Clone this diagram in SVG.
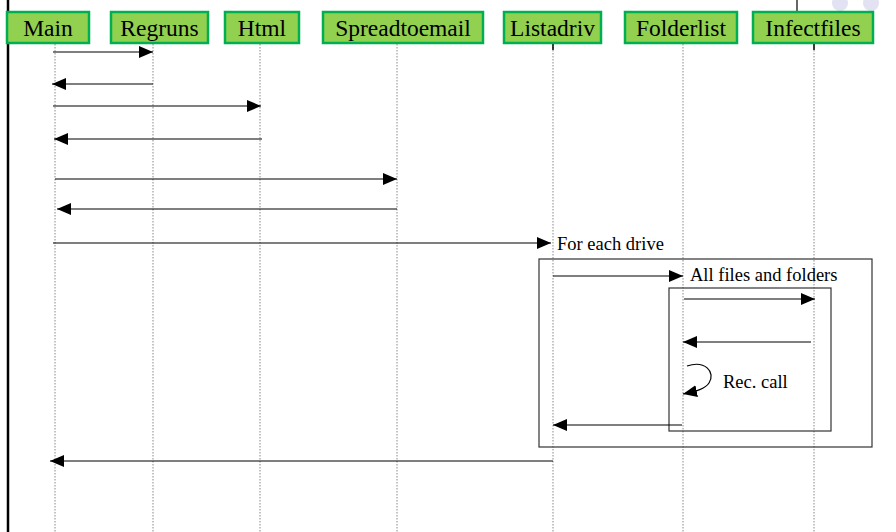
<svg xmlns="http://www.w3.org/2000/svg" width="896" height="532" viewBox="0 0 896 532">
<style>
.box{fill:#92d050;stroke:#00b050;stroke-width:2.5}
.hdr{font-family:"Liberation Serif",serif;font-size:23.5px;fill:#000;text-anchor:middle}
.lbl{font-family:"Liberation Serif",serif;font-size:18.5px;fill:#000}
.life{stroke:#888;stroke-width:1;stroke-dasharray:1.5 1.5;fill:none}
.msg{stroke:#000;stroke-width:1.2;fill:none}
.frame{fill:none;stroke:#333;stroke-width:1.2}
</style>
<defs>
<marker id="ah" viewBox="0 0 14 12" refX="14" refY="6" markerWidth="14" markerHeight="12" markerUnits="userSpaceOnUse" orient="auto">
<path d="M0,0 L14,6 L0,12 Z" fill="#000"/>
</marker>
</defs>
<rect width="896" height="532" fill="#fff"/>
<circle cx="840" cy="3" r="8" fill="#e2e2f2"/>
<circle cx="871" cy="3" r="8" fill="#e2e2f2"/>
<line x1="8" y1="0" x2="8" y2="532" stroke="#000" stroke-width="2.5"/>
<line x1="797" y1="0" x2="797" y2="12" stroke="#000" stroke-width="1.2"/>
<g id="lifelines">
<line class="life" x1="55" y1="44" x2="55" y2="532"/>
<line class="life" x1="153" y1="44" x2="153" y2="532"/>
<line class="life" x1="260" y1="44" x2="260" y2="532"/>
<line class="life" x1="397" y1="44" x2="397" y2="532"/>
<line class="life" x1="553" y1="44" x2="553" y2="532"/>
<line class="life" x1="683" y1="44" x2="683" y2="532"/>
<line class="life" x1="814" y1="44" x2="814" y2="532" stroke="#000"/>
<line x1="553" y1="43" x2="553" y2="50" stroke="#000" stroke-width="1.5"/>
<line x1="814" y1="43" x2="814" y2="50" stroke="#000" stroke-width="1.5"/>
</g>
<g id="node-main"><rect class="box" x="7" y="12" width="82" height="31"/><text class="hdr" x="48" y="36">Main</text></g>
<g id="node-regruns"><rect class="box" x="111" y="12" width="97" height="31"/><text class="hdr" x="159.5" y="36">Regruns</text></g>
<g id="node-html"><rect class="box" x="225" y="12" width="74" height="31"/><text class="hdr" x="262" y="36">Html</text></g>
<g id="node-spreadtoemail"><rect class="box" x="323" y="12" width="160" height="31"/><text class="hdr" x="403" y="36">Spreadtoemail</text></g>
<g id="node-listadriv"><rect class="box" x="504" y="12" width="97" height="31"/><text class="hdr" x="552.5" y="36">Listadriv</text></g>
<g id="node-folderlist"><rect class="box" x="625" y="12" width="112" height="31"/><text class="hdr" x="681" y="36">Folderlist</text></g>
<g id="node-infectfiles"><rect class="box" x="753" y="12" width="120" height="31"/><text class="hdr" x="813" y="36">Infectfiles</text></g>
<g id="frames">
<rect class="frame" x="539" y="259" width="333" height="188"/>
<rect class="frame" x="669" y="288" width="162" height="143" stroke="#555"/>
</g>
<g id="connectors">
<line class="msg" x1="53" y1="52" x2="153" y2="52" marker-end="url(#ah)"/>
<line class="msg" x1="153" y1="84" x2="52" y2="84" marker-end="url(#ah)"/>
<line class="msg" x1="53" y1="106" x2="261" y2="106" marker-end="url(#ah)"/>
<line class="msg" x1="262" y1="139" x2="54" y2="139" marker-end="url(#ah)"/>
<line class="msg" x1="55" y1="179" x2="397" y2="179" marker-end="url(#ah)"/>
<line class="msg" x1="397" y1="209" x2="57" y2="209" marker-end="url(#ah)"/>
<line class="msg" x1="53" y1="243" x2="551" y2="243" marker-end="url(#ah)"/>
<line class="msg" x1="553" y1="276" x2="683" y2="276" marker-end="url(#ah)"/>
<line class="msg" x1="684" y1="299" x2="815" y2="299" marker-end="url(#ah)"/>
<line class="msg" x1="811" y1="342" x2="683" y2="342" marker-end="url(#ah)"/>
<path class="msg" d="M687,366 C705,360 716,372 709,383 C705,389 697,391 683,394" marker-end="url(#ah)"/>
<line class="msg" x1="682" y1="425" x2="553" y2="425" marker-end="url(#ah)"/>
<line class="msg" x1="553" y1="461" x2="50" y2="461" marker-end="url(#ah)"/>
</g>
<g id="labels">
<text class="lbl" x="557" y="250">For each drive</text>
<text class="lbl" x="690" y="281">All files and folders</text>
<text class="lbl" x="723" y="388">Rec. call</text>
</g>
</svg>
